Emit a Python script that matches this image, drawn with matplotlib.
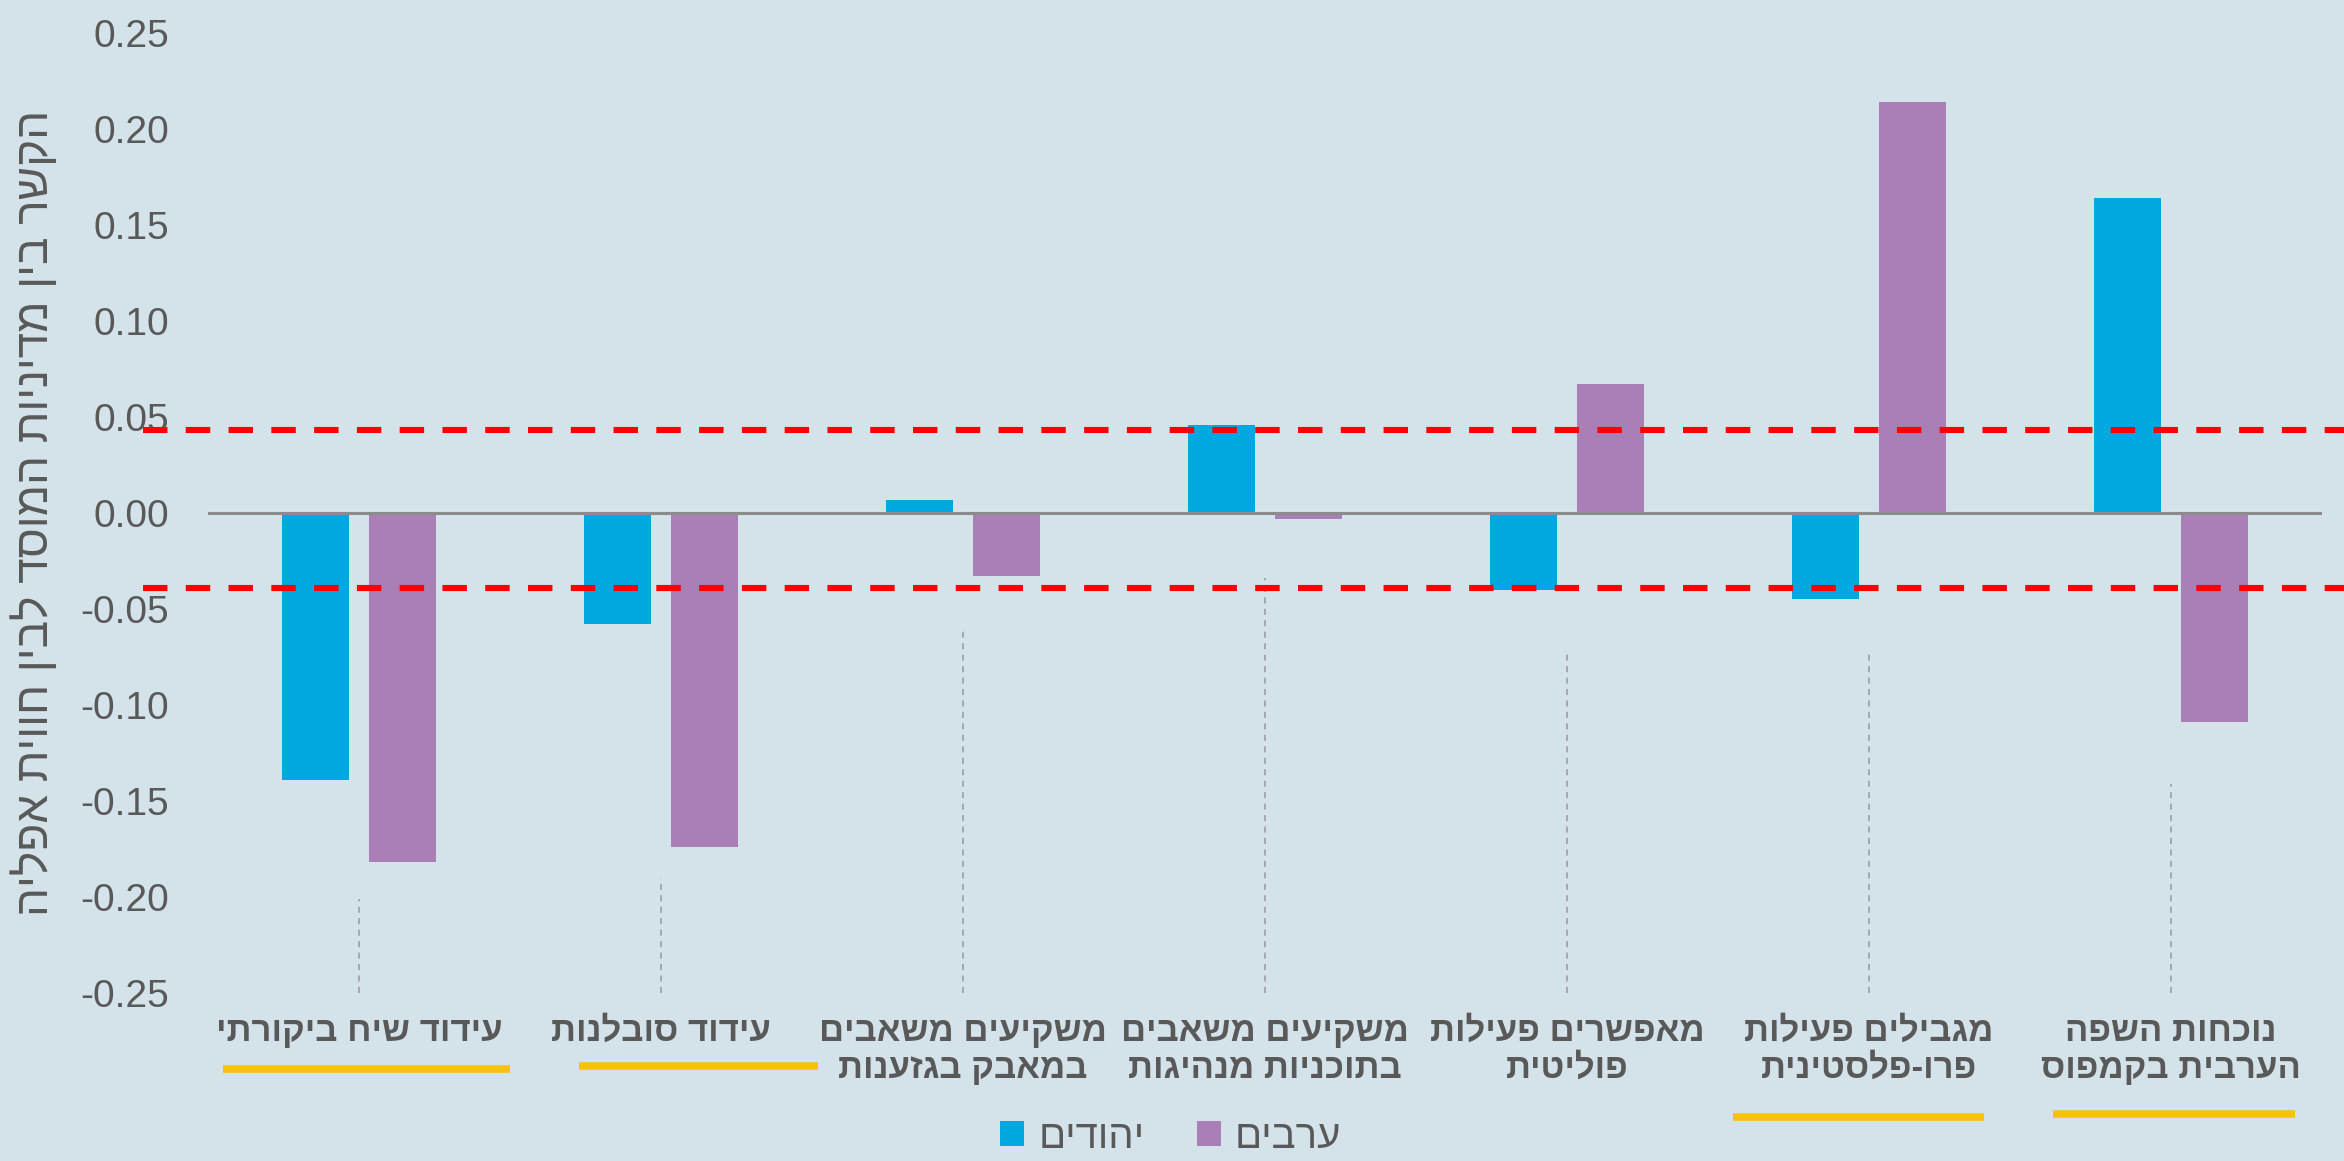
import numpy as np
import matplotlib
matplotlib.use("Agg")
import matplotlib.pyplot as plt
from matplotlib.lines import Line2D
from matplotlib.transforms import blended_transform_factory

# data
categories = [
    ["עידוד שיח ביקורתי"],
    ["עידוד סובלנות"],
    ["משקיעים משאבים", "במאבק בגזענות"],
    ["משקיעים משאבים", "בתוכניות מנהיגות"],
    ["מאפשרים פעילות", "פוליטית"],
    ["מגבילים פעילות", "פרו-פלסטינית"],
    ["נוכחות השפה", "הערבית בקמפוס"],
]
jews = [-0.139, -0.058, 0.007, 0.046, -0.040, -0.045, 0.164]
arabs = [-0.182, -0.174, -0.033, -0.003, 0.067, 0.214, -0.109]
series_names = ["יהודים", "ערבים"]
ylabel = "הקשר בין מדיניות המוסד לבין חווית אפליה"
yticks = [-0.25, -0.20, -0.15, -0.10, -0.05, 0.00, 0.05, 0.10, 0.15, 0.20, 0.25]
ref_lines = [0.0432, -0.039]
leader_tops = [-0.201, -0.190, -0.060, -0.034, -0.073, -0.073, -0.141]
underlined = [0, 1, 5, 6]

# styling
bg = "#d4e2e9"
c_jews = "#00a8e2"
c_arabs = "#a97fb6"
txt = "#595959"
hebrew = ["Liberation Sans Narrow", "Liberation Sans", "DejaVu Sans"]
# underline extents (rel. to category centre) and height in figure fraction
ul_style = {0: (-0.45, 0.50, 0.0792), 1: (-0.27, 0.52, 0.0818),
            5: (-0.45, 0.38, 0.0379), 6: (-0.39, 0.41, 0.0405)}


def rtl(s):
    # matplotlib has no bidi support, so flip the Hebrew by hand
    return s[::-1]


plt.rcParams["font.family"] = hebrew

fig = plt.figure(figsize=(23.44, 11.61), dpi=100, facecolor=bg)
ax = fig.add_axes([0.0887, 0.1447, 0.9019, 0.8269])
ax.set_facecolor(bg)

x = np.arange(len(categories))
w = 0.222
off = 0.143
b1 = ax.bar(x - off, jews, w, color=c_jews, label=rtl(series_names[0]), zorder=3)
b2 = ax.bar(x + off, arabs, w, color=c_arabs, label=rtl(series_names[1]), zorder=3)

ax.axhline(0, color="#8c8c8c", lw=2.2, zorder=4)
ax.vlines(x, -0.25, leader_tops, colors="#9a9a9a", lw=1.1,
          linestyles=(0, (4, 3.5)), zorder=2)

ax.set_xlim(-0.5, len(categories) - 0.5)
ax.set_ylim(-0.25, 0.25)
ax.set_yticks(yticks)
ax.set_yticklabels([f"{v:.2f}" for v in yticks],
                   family=["Liberation Sans"], fontsize=28, color=txt)
ax.set_xticks(x)
ax.set_xticklabels(["\n".join(rtl(l) for l in c) for c in categories],
                   fontsize=25, fontweight="bold", color=txt,
                   linespacing=1.15)
ax.tick_params(axis="y", length=0, pad=28)
ax.tick_params(axis="x", length=0, pad=16)
for s in ax.spines.values():
    s.set_visible(False)

ax.set_ylabel(rtl(ylabel), fontsize=33, color=txt)
ax.yaxis.set_label_coords(-0.071, 0.5)

# red reference lines run past the axes to the figure edge
tr = blended_transform_factory(fig.transFigure, ax.transData)
for yv in ref_lines:
    fig.add_artist(Line2D([0.061, 1.0], [yv, yv], transform=tr, color="#ff0000",
                          lw=4.4, dashes=(4, 3), zorder=5))

# yellow underlines under highlighted categories
tr2 = blended_transform_factory(ax.transData, fig.transFigure)
for i in underlined:
    a, b, yy = ul_style[i]
    fig.add_artist(Line2D([x[i] + a, x[i] + b], [yy, yy], transform=tr2,
                          color="#f7c20e", lw=5.5, solid_capstyle="butt"))

fig.legend(handles=[b1, b2], loc="center", bbox_to_anchor=(0.4995, 0.021),
           ncol=2, frameon=False, fontsize=29, labelcolor=txt,
           handlelength=0.6, handleheight=0.6, handletextpad=0.35,
           columnspacing=1.3, borderpad=0.1)

fig.savefig("out.png", dpi=100, facecolor=bg)
